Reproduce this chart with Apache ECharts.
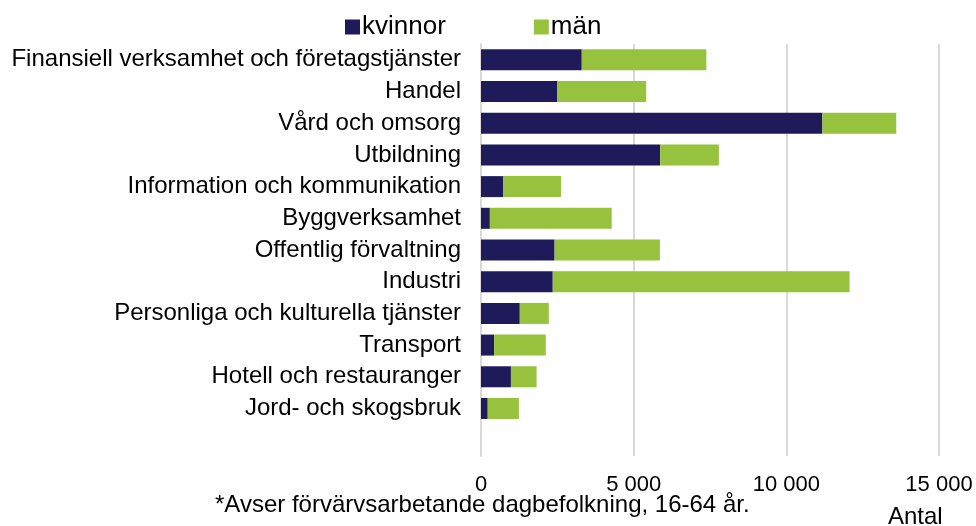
<!DOCTYPE html>
<html>
<head>
<meta charset="utf-8">
<script src="https://cdn.jsdelivr.net/npm/echarts@6/dist/echarts.min.js"></script>
<style>
  html, body { margin: 0; padding: 0; background: #fff; }
  #chart { width: 976px; height: 526px; }
</style>
</head>
<body>
<div id="chart"></div>
<script>
  // branscher, uppifrån och ned (sista tomma raden ger luft under staplarna)
  var categories = [
    'Finansiell verksamhet och företagstjänster',
    'Handel',
    'Vård och omsorg',
    'Utbildning',
    'Information och kommunikation',
    'Byggverksamhet',
    'Offentlig förvaltning',
    'Industri',
    'Personliga och kulturella tjänster',
    'Transport',
    'Hotell och restauranger',
    'Jord- och skogsbruk',
    ''
  ]
  var kvinnor = [3300, 2490, 11180, 5870, 720, 290, 2410, 2350, 1270, 430, 980, 220, null]
  var man = [4080, 2920, 2420, 1920, 1900, 3990, 3450, 9720, 950, 1690, 840, 1020, null]
  var xTicks = [0, 5000, 10000, 15000]

  var font = 'Liberation Sans, Arial, sans-serif'
  var chart = echarts.init(document.getElementById('chart'))

  chart.setOption({
    animation: false,
    textStyle: { fontFamily: font },
    legend: {
      data: ['kvinnor', 'män'],
      left: 340,
      top: 9,
      itemWidth: 15,
      itemHeight: 15,
      itemGap: 88,
      icon: 'rect',
      textStyle: { fontSize: 26, color: '#000', padding: [0, 0, 0, -3] }
    },
    grid: {
      left: 481,
      right: 37,
      top: 44,
      bottom: 70
    },
    xAxis: {
      type: 'value',
      min: xTicks[0],
      max: xTicks[xTicks.length - 1],
      interval: 5000,
      axisLine: { show: false },
      axisTick: { show: false },
      splitLine: { lineStyle: { color: '#d9d9d9', width: 2 } },
      axisLabel: {
        fontSize: 22,
        color: '#000',
        margin: 18,
        formatter: function (v) {
          return String(v).replace(/\B(?=(\d{3})+(?!\d))/g, ' ')
        }
      }
    },
    yAxis: {
      type: 'category',
      inverse: true,
      data: categories,
      axisLine: { lineStyle: { color: '#d9d9d9', width: 2 } },
      axisTick: { show: false },
      axisLabel: { fontSize: 24, color: '#000', margin: 20 }
    },
    series: [{
      name: 'kvinnor',
      type: 'bar',
      stack: 'total',
      barWidth: 21,
      itemStyle: { color: '#1f1b5b' },
      data: kvinnor
    }, {
      name: 'män',
      type: 'bar',
      stack: 'total',
      barWidth: 21,
      itemStyle: { color: '#96c23d' },
      data: man
    }],
    graphic: [{
      type: 'text',
      left: 215,
      top: 493,
      style: {
        text: '*Avser förvärvsarbetande dagbefolkning, 16-64 år.',
        font: '24px ' + font,
        fill: '#000'
      }
    }, {
      type: 'text',
      left: 888,
      top: 505,
      style: {
        text: 'Antal',
        font: '24px ' + font,
        fill: '#000'
      }
    }]
  })
</script>
</body>
</html>
